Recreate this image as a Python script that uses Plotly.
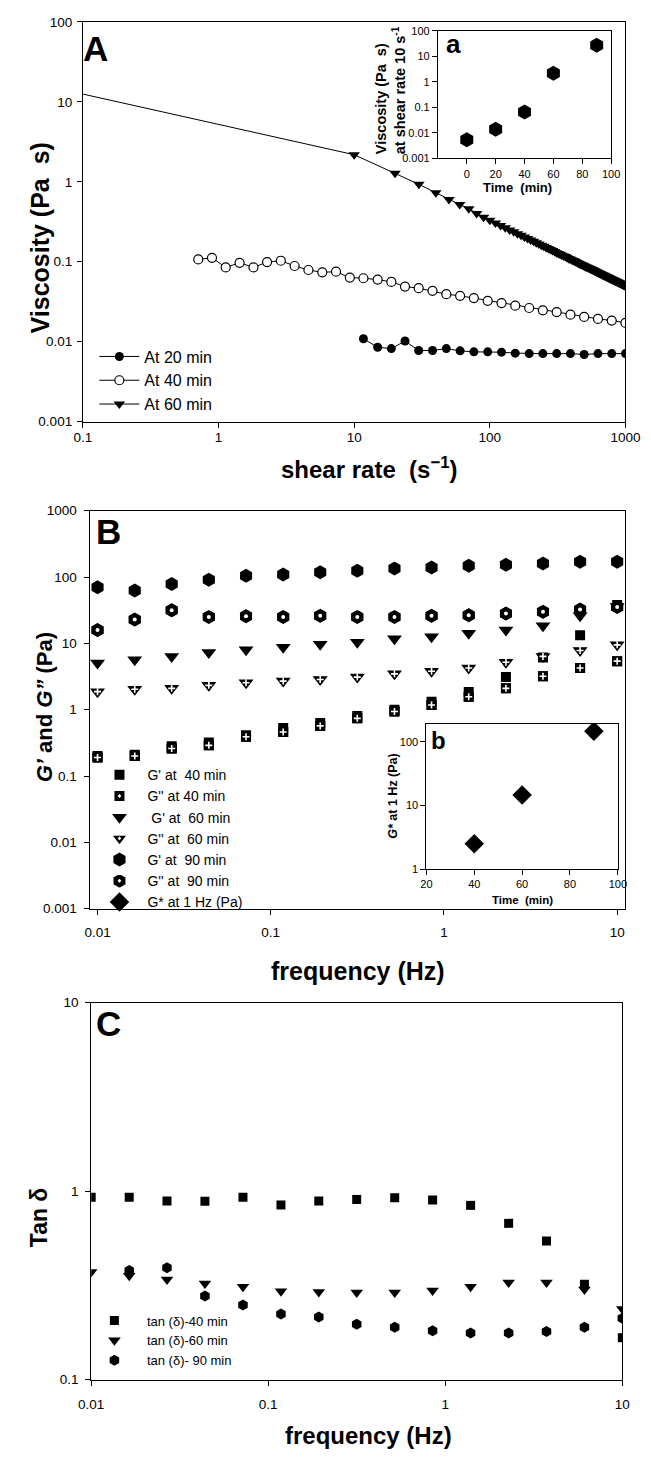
import plotly.graph_objects as go

# ---------------- Panel A data ----------------
shear_20 = [11.7, 14.9, 18.8, 23.7, 29.9, 37.8, 47.8, 60.4, 76.3, 96.5,
            122, 154, 195, 246, 311, 393, 496, 627, 792, 1000]
visc_20 = [0.0109, 0.00853, 0.0082, 0.0102, 0.00776, 0.00776, 0.0082, 0.00769, 0.00747, 0.00747,
           0.0074, 0.0072, 0.0071, 0.0071, 0.0071, 0.0071, 0.00693, 0.0071, 0.0071, 0.0071]

shear_40 = [0.709, 0.895, 1.13, 1.43, 1.81, 2.28, 2.88, 3.64, 4.60, 5.82, 7.35, 9.29,
            11.7, 14.9, 18.8, 23.7, 29.9, 37.8, 47.8, 60.4, 76.3, 96.5,
            122, 154, 195, 246, 311, 393, 496, 627, 792, 1000]
visc_40 = [0.107, 0.112, 0.085, 0.097, 0.085, 0.099, 0.103, 0.0885, 0.0789, 0.0738, 0.0752, 0.0634,
           0.0622, 0.0598, 0.0560, 0.0490, 0.0467, 0.0433, 0.0393, 0.0375, 0.0351, 0.0325,
           0.0304, 0.0282, 0.0264, 0.0247, 0.0235, 0.0218, 0.0204, 0.0193, 0.0184, 0.0172]

shear_60 = list(range(10, 1001, 10))
visc_60 = [2.18, 1.28, 0.93, 0.73, 0.60, 0.52, 0.46, 0.40, 0.360, 0.330,
           0.305, 0.284, 0.266, 0.250, 0.237, 0.224, 0.214, 0.204, 0.195, 0.187,
           0.180, 0.173, 0.167, 0.161, 0.156, 0.151, 0.146, 0.142, 0.138, 0.134,
           0.130, 0.127, 0.124, 0.121, 0.118, 0.116, 0.113, 0.110, 0.108, 0.106,
           0.104, 0.102, 0.0998, 0.0979, 0.0961, 0.0944, 0.0927, 0.0911, 0.0896, 0.0881,
           0.0867, 0.0854, 0.0841, 0.0828, 0.0816, 0.0804, 0.0792, 0.0781, 0.0770, 0.0759,
           0.0749, 0.0739, 0.0730, 0.0720, 0.0711, 0.0702, 0.0694, 0.0685, 0.0677, 0.0669,
           0.0662, 0.0654, 0.0647, 0.0640, 0.0633, 0.0626, 0.0619, 0.0613, 0.0606, 0.0600,
           0.0594, 0.0588, 0.0582, 0.0576, 0.0571, 0.0565, 0.0560, 0.0554, 0.0549, 0.0544,
           0.0539, 0.0534, 0.0530, 0.0525, 0.0520, 0.0516, 0.0512, 0.0507, 0.0503, 0.0499]
fit_shear_60 = [0.1, 10]
fit_visc_60 = [12.5, 2.18]

# inset a
time_a = [0, 20, 40, 60, 90]
visc_at_10 = [0.0054, 0.014, 0.066, 2.18, 27]

# ---------------- Panel B data ----------------
freq = [0.01, 0.0164, 0.0268, 0.0439, 0.0720, 0.118, 0.193, 0.316, 0.518, 0.848,
        1.39, 2.28, 3.73, 6.11, 10.0]
Gp_40 = [0.20, 0.21, 0.28, 0.32, 0.41, 0.53, 0.63, 0.80, 1.00, 1.32, 1.85, 3.10, 6.10, 13.3, 38.0]
Gpp_40 = [0.19, 0.20, 0.26, 0.29, 0.39, 0.46, 0.57, 0.74, 0.94, 1.18, 1.57, 2.10, 3.20, 4.25, 5.4]
Gp_60 = [5.06, 5.67, 6.36, 7.30, 8.0, 8.77, 9.72, 10.4, 11.7, 12.6, 14.2, 15.9, 18.4, 26.0, 36.0]
Gpp_60 = [1.87, 2.03, 2.10, 2.33, 2.55, 2.70, 2.86, 3.10, 3.47, 3.80, 4.26, 5.18, 6.36, 7.82, 9.5]
Gp_90 = [70, 62.8, 78.9, 91.5, 105, 109, 118, 125, 135, 140, 148, 153, 160, 170, 170]
Gpp_90 = [15.9, 22.9, 31.6, 25.1, 25.7, 25.1, 26.0, 25.1, 25.1, 26.0, 26.6, 28.2, 29.9, 32.3, 35.4]

# inset b
time_b = [40, 60, 90]
Gstar_1Hz = [2.5, 14.7, 148]

# ---------------- Panel C data ----------------
tan_40 = [0.93, 0.93, 0.887, 0.885, 0.93, 0.845, 0.887, 0.904, 0.923, 0.898, 0.841, 0.675, 0.545, 0.321, 0.167]
tan_60 = [0.373, 0.356, 0.340, 0.324, 0.311, 0.295, 0.292, 0.290, 0.290, 0.297, 0.311, 0.328, 0.328, 0.301, 0.237]
tan_90 = [None, 0.38, 0.393, 0.278, 0.249, 0.223, 0.215, 0.197, 0.190, 0.182, 0.177, 0.177, 0.180, 0.190, 0.212]

# tick labels
ticks_A_x = [0.1, 1, 10, 100, 1000]
ticks_A_x_text = ["0.1", "1", "10", "100", "1000"]
ticks_A_y = [0.001, 0.01, 0.1, 1, 10, 100]
ticks_A_y_text = ["0.001", "0.01", "0.1", "1", "10", "100"]
ticks_B_y = [0.001, 0.01, 0.1, 1, 10, 100, 1000]
ticks_B_y_text = ["0.001", "0.01", "0.1", "1", "10", "100", "1000"]
ticks_freq = [0.01, 0.1, 1, 10]
ticks_freq_text = ["0.01", "0.1", "1", "10"]
ticks_C_y = [0.1, 1, 10]
ticks_C_y_text = ["0.1", "1", "10"]
ticks_ia_x = [0, 20, 40, 60, 80, 100]
ticks_ib_x = [20, 40, 60, 80, 100]
ticks_ib_y = [1, 10, 100]
ticks_ib_y_text = ["1", "10", "100"]

W, H = 651, 1458
FONT = "Liberation Sans, Arial, sans-serif"


def px_x(p):
    return p / W


def px_y(p):
    return 1 - p / H


fig = go.Figure()
blk = "black"

# ---------- Panel A ----------
fig.add_trace(go.Scatter(x=shear_20, y=visc_20, mode="lines+markers", name="At 20 min",
                         line=dict(color=blk, width=1), marker=dict(symbol="circle", size=9, color=blk),
                         xaxis="x", yaxis="y", legend="legend"))
fig.add_trace(go.Scatter(x=shear_40, y=visc_40, mode="lines+markers", name="At 40 min",
                         line=dict(color=blk, width=1),
                         marker=dict(symbol="circle", size=9, color="white", line=dict(color=blk, width=1.2)),
                         xaxis="x", yaxis="y", legend="legend"))
fig.add_trace(go.Scatter(x=fit_shear_60, y=fit_visc_60, mode="lines", showlegend=False,
                         line=dict(color=blk, width=1), xaxis="x", yaxis="y"))
fig.add_trace(go.Scatter(x=shear_60, y=visc_60, mode="lines+markers", name="At 60 min",
                         line=dict(color=blk, width=1), marker=dict(symbol="triangle-down", size=10, color=blk),
                         xaxis="x", yaxis="y", legend="legend"))
fig.add_trace(go.Scatter(x=time_a, y=visc_at_10, mode="markers", showlegend=False,
                         marker=dict(symbol="hexagon", size=15, color=blk), xaxis="x2", yaxis="y2"))

# ---------- Panel B ----------
B = dict(xaxis="x3", yaxis="y3")
dotline = dict(color="white", width=2)
# legend-style G'' entries (drawn first, underneath; they provide the legend symbols)
fig.add_trace(go.Scatter(x=freq, y=Gpp_40, mode="markers", name="G'' at 40 min", legend="legend2", legendrank=2,
                         marker=dict(symbol="square-dot", size=12, color=blk, line=dotline), **B))
fig.add_trace(go.Scatter(x=freq, y=Gpp_60, mode="markers", name="G'' at  60 min", legend="legend2", legendrank=4,
                         marker=dict(symbol="triangle-down-dot", size=15, color=blk, line=dotline), **B))
fig.add_trace(go.Scatter(x=freq, y=Gpp_90, mode="markers", name="G'' at  90 min", legend="legend2", legendrank=6,
                         marker=dict(symbol="hexagon-dot", size=16, color=blk, line=dotline), **B))
# solid markers
fig.add_trace(go.Scatter(x=freq, y=Gp_40, mode="markers", name="G' at  40 min", legend="legend2", legendrank=1,
                         marker=dict(symbol="square", size=10, color=blk), **B))
fig.add_trace(go.Scatter(x=freq, y=Gpp_40, mode="markers", showlegend=False,
                         marker=dict(symbol="square", size=10, color=blk), **B))
fig.add_trace(go.Scatter(x=freq, y=Gp_60, mode="markers", name=" G' at  60 min", legend="legend2", legendrank=3,
                         marker=dict(symbol="triangle-down", size=13, color=blk), **B))
fig.add_trace(go.Scatter(x=freq, y=Gpp_60, mode="markers", showlegend=False,
                         marker=dict(symbol="triangle-down", size=13, color=blk), **B))
fig.add_trace(go.Scatter(x=freq, y=Gp_90, mode="markers", name="G' at  90 min", legend="legend2", legendrank=5,
                         marker=dict(symbol="hexagon", size=14, color=blk), **B))
fig.add_trace(go.Scatter(x=freq, y=Gpp_90, mode="markers", showlegend=False,
                         marker=dict(symbol="hexagon", size=14, color=blk), **B))
# white plus / dot inside the G'' markers
plus = dict(symbol="cross-thin", size=5, color="white", line=dict(color="white", width=1.6))
fig.add_trace(go.Scatter(x=freq, y=Gpp_40, mode="markers", showlegend=False, marker=plus, hoverinfo="skip", **B))
fig.add_trace(go.Scatter(x=freq, y=Gpp_60, mode="markers", showlegend=False, marker=plus, hoverinfo="skip", **B))
fig.add_trace(go.Scatter(x=freq, y=Gpp_90, mode="markers", showlegend=False, hoverinfo="skip",
                         marker=dict(symbol="circle", size=4, color="white"), **B))
# inset b
fig.add_trace(go.Scatter(x=time_b, y=Gstar_1Hz, mode="markers", name="G* at 1 Hz (Pa)", legend="legend2",
                         legendrank=7, marker=dict(symbol="diamond", size=15, color=blk), xaxis="x4", yaxis="y4"))

# ---------- Panel C ----------
fig.add_trace(go.Scatter(x=freq, y=tan_40, mode="markers", name="tan (δ)-40 min",
                         marker=dict(symbol="square", size=9, color=blk), xaxis="x5", yaxis="y5", legend="legend3"))
fig.add_trace(go.Scatter(x=freq, y=tan_60, mode="markers", name="tan (δ)-60 min",
                         marker=dict(symbol="triangle-down", size=11, color=blk), xaxis="x5", yaxis="y5", legend="legend3"))
fig.add_trace(go.Scatter(x=freq, y=tan_90, mode="markers", name="tan (δ)- 90 min",
                         marker=dict(symbol="hexagon", size=11, color=blk), xaxis="x5", yaxis="y5", legend="legend3"))


def ax(domain, anchor, rng, typ="log", tickvals=None, ticktext=None, fs=13.5, standoff=0):
    d = dict(domain=domain, anchor=anchor, type=typ, range=rng, showline=True, linecolor=blk,
             linewidth=1, mirror=True, ticks="outside", ticklen=5, tickcolor=blk, tickwidth=1,
             showgrid=False, zeroline=False, tickfont=dict(family=FONT, size=fs, color=blk),
             ticklabelstandoff=standoff)
    if tickvals is not None:
        d["tickmode"] = "array"
        d["tickvals"] = tickvals
        if ticktext is not None:
            d["ticktext"] = ticktext
    return d


layout = dict(
    width=W, height=H, autosize=False, margin=dict(l=0, r=0, t=0, b=0),
    paper_bgcolor="white", plot_bgcolor="white",
    font=dict(family=FONT, color=blk),
    xaxis=ax([px_x(73), px_x(640)], "y", [-1, 3], tickvals=ticks_A_x, ticktext=ticks_A_x_text, standoff=-2),
    yaxis=ax([px_y(419), px_y(15)], "x", [-3, 2], tickvals=ticks_A_y, ticktext=ticks_A_y_text, standoff=2),
    xaxis2=ax([px_x(444), px_x(625)], "y2", [-20, 100], typ="linear", tickvals=ticks_ia_x, fs=11),
    yaxis2=ax([px_y(153), px_y(24)], "x2", [-3, 2], tickvals=ticks_A_y, ticktext=ticks_A_y_text, fs=11),
    xaxis3=ax([px_x(80), px_x(640)], "y3", [-2.046, 1.048], tickvals=ticks_freq, ticktext=ticks_freq_text, standoff=6),
    yaxis3=ax([px_y(911), px_y(509)], "x3", [-3, 3], tickvals=ticks_B_y, ticktext=ticks_B_y_text, standoff=4),
    xaxis4=ax([px_x(432), px_x(632)], "y4", [20, 100], typ="linear", tickvals=ticks_ib_x, fs=11),
    yaxis4=ax([px_y(871), px_y(724)], "x4", [0, 2.29], tickvals=ticks_ib_y, ticktext=ticks_ib_y_text, fs=11),
    xaxis5=ax([px_x(81.7), px_x(636.7)], "y5", [-2, 1], tickvals=ticks_freq, ticktext=ticks_freq_text, standoff=7),
    yaxis5=ax([px_y(1387), px_y(1006)], "x5", [-1, 1], tickvals=ticks_C_y, ticktext=ticks_C_y_text, standoff=4),
    legend=dict(x=px_x(85), y=px_y(336), xanchor="left", yanchor="top", bgcolor="rgba(0,0,0,0)",
                font=dict(family=FONT, size=16, color=blk), itemwidth=40, tracegroupgap=0),
    legend2=dict(x=px_x(82), y=px_y(760), xanchor="left", yanchor="top", bgcolor="rgba(0,0,0,0)",
                 font=dict(family=FONT, size=14, color=blk), itemwidth=46, tracegroupgap=0),
    legend3=dict(x=px_x(72), y=px_y(1312), xanchor="left", yanchor="top", bgcolor="rgba(0,0,0,0)",
                 font=dict(family=FONT, size=13, color=blk), itemwidth=55, tracegroupgap=0),
)
fig.update_layout(**layout)


def ann(text, x, y, size, angle=0, align="center", xanchor="center", yanchor="middle"):
    fig.add_annotation(text=text, x=px_x(x), y=px_y(y), xref="paper", yref="paper", showarrow=False,
                       textangle=angle, align=align, xanchor=xanchor, yanchor=yanchor,
                       font=dict(family=FONT, size=size, color=blk))


# Axis titles
ann("<b>Viscosity (Pa  s)</b>", 28, 233, 25, angle=-90)
ann("<b>shear rate  (s<sup>−1</sup>)</b>", 372, 466, 24)
ann("<b><i>G’</i> and <i>G”</i> (Pa)</b>", 33, 708, 22, angle=-90)
ann("<b>frequency (Hz)</b>", 360, 974, 25)
ann("<b>Tan δ</b>", 28, 1223, 23, angle=-90)
ann("<b>frequency (Hz)</b>", 371, 1443, 24)

# Panel letters
ann("<b>A</b>", 86, 42, 35)
ann("<b>B</b>", 100, 530, 35)
ann("<b>C</b>", 100, 1027, 35)

# Inset a
ann("<b>a</b>", 460, 37, 26)
ann("<b>Time  (min)</b>", 527, 182, 13)
ann("<b>Viscosity (Pa  s)<br>at shear rate 10 s<sup>-1</sup></b>", 394, 84, 14.5, angle=-90, align="left")

# Inset b
ann("<b>b</b>", 445, 741, 24)
ann("<b>Time  (min)</b>", 532, 902, 11.5)
ann("<b><i>G*</i> at 1 Hz (Pa)</b>", 397, 797, 12.5, angle=-90)

fig.write_html("out.html", config={"displayModeBar": False},
               post_script="document.body.style.margin='0px';")
